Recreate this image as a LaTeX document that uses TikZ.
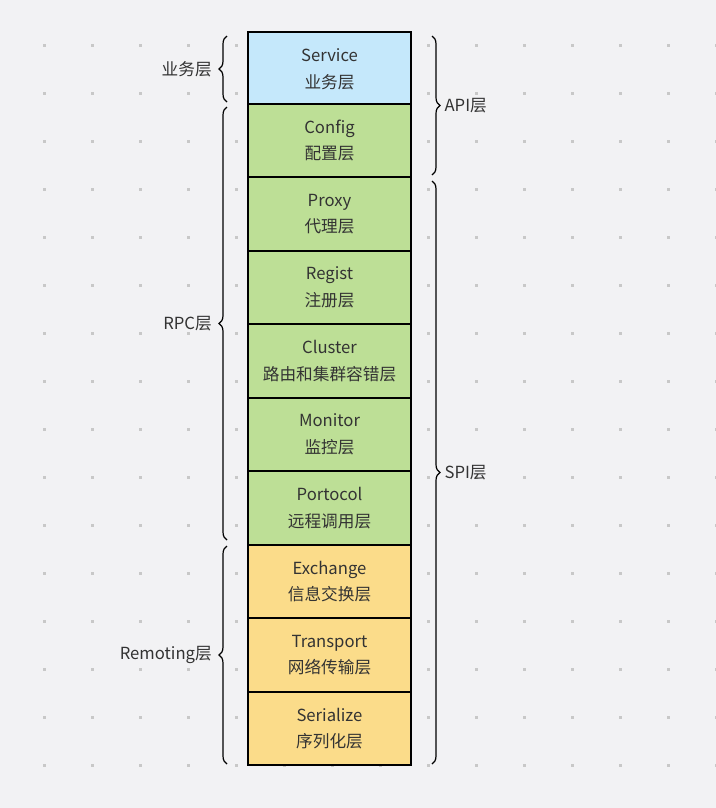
\documentclass[tikz,border=0pt]{standalone}
\usepackage{fontspec}
\setmainfont{Noto Sans CJK SC}
\usetikzlibrary{decorations.pathreplacing}
\definecolor{bgc}{HTML}{F2F2F4}
\definecolor{dotc}{HTML}{C8C8C8}
\definecolor{apic}{HTML}{C5E8FB}
\definecolor{rpcc}{HTML}{BDDF96}
\definecolor{remc}{HTML}{FBDC8A}
\definecolor{txtc}{HTML}{333333}
\begin{document}
\begin{tikzpicture}[x=0.75pt,y=-0.75pt]
            \tikzstyle{layer}=[draw=black, line width=1.5pt, minimum width=122.25pt, minimum height=55.1pt, inner sep=0pt, align=center, font=\fontsize{12.5}{20}\selectfont, text=txtc]
            \tikzstyle{grp}=[draw=black, line width=0.9pt, decorate, decoration={brace, amplitude=6pt}]
            \tikzstyle{lbl}=[font=\fontsize{12.5}{14}\selectfont, text=txtc, inner sep=2pt]

            \useasboundingbox (0,0) rectangle (716,808);
            \fill[bgc] (0,0) rectangle (716,808);
            \begin{scope}
              \clip (0,0) rectangle (716,808);
              \foreach \i in {0,...,14}
                \foreach \j in {0,...,16}
                  \fill[dotc] ({44+48*\i-1.5},{45+48*\j-1.5}) rectangle ++(3,3);
            \end{scope}

            \node[layer, fill=apic] (service) at (329.5,69) {Service\\业务层};
            \node[layer, fill=rpcc] (config) at (329.5,140.5) {Config\\配置层};
            \node[layer, fill=rpcc] (proxy) at (329.5,214) {Proxy\\代理层};
            \node[layer, fill=rpcc] (regist) at (329.5,287.5) {Regist\\注册层};
            \node[layer, fill=rpcc] (cluster) at (329.5,361) {Cluster\\路由和集群容错层};
            \node[layer, fill=rpcc] (monitor) at (329.5,434.5) {Monitor\\监控层};
            \node[layer, fill=rpcc] (portocol) at (329.5,508) {Portocol\\远程调用层};
            \node[layer, fill=remc] (exchange) at (329.5,581.5) {Exchange\\信息交换层};
            \node[layer, fill=remc] (transport) at (329.5,655) {Transport\\网络传输层};
            \node[layer, fill=remc] (serialize) at (329.5,728.5) {Serialize\\序列化层};

            \coordinate (biz1) at (227,102); \coordinate (biz2) at (227,36);
            \coordinate (rpc1) at (227,540); \coordinate (rpc2) at (227,107);
            \coordinate (rem1) at (227,764); \coordinate (rem2) at (227,546);
            \coordinate (api1) at (432,36); \coordinate (api2) at (432,175);
            \coordinate (spi1) at (432,181); \coordinate (spi2) at (432,764);

            \draw[grp] (biz1) -- (biz2) node[lbl, midway, left=9pt] {业务层};
            \draw[grp] (rpc1) -- (rpc2) node[lbl, midway, left=9pt] {RPC层};
            \draw[grp] (rem1) -- (rem2) node[lbl, midway, left=9pt] {Remoting层};
            \draw[grp] (api1) -- (api2) node[lbl, midway, right=7pt] {API层};
            \draw[grp] (spi1) -- (spi2) node[lbl, midway, right=7pt] {SPI层};
        \end{tikzpicture}
\end{document}
